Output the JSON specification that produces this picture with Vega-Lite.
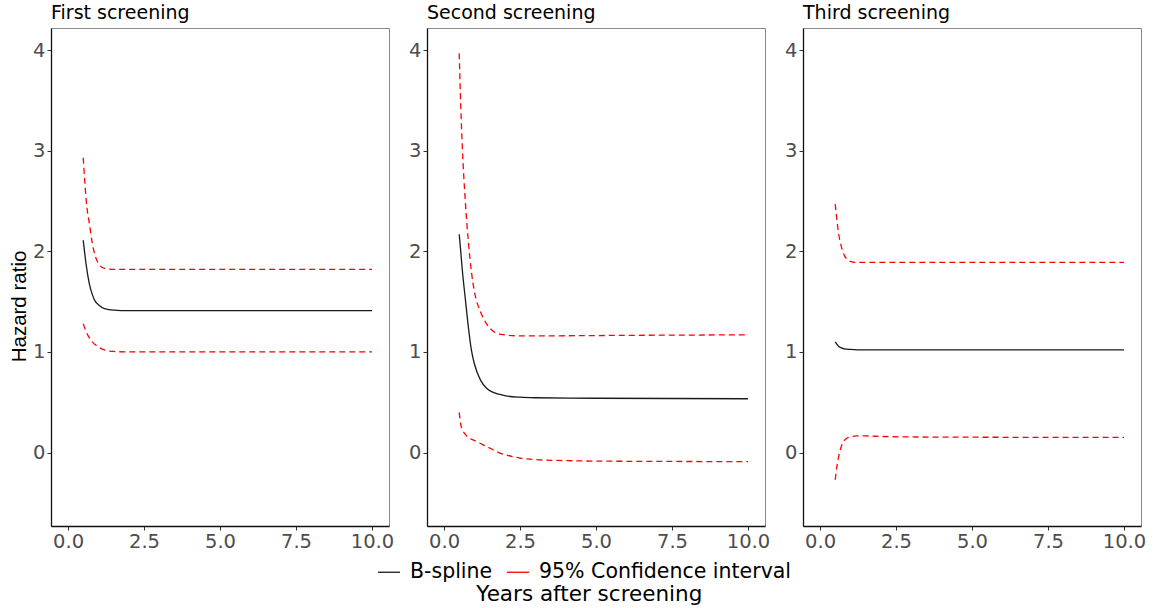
{
  "$schema": "https://vega.github.io/schema/vega-lite/v6.json",
  "background": "white",
  "padding": {"left": 8, "top": 3, "right": 0, "bottom": 0},
  "datasets": {
    "d": [
      {"panel": "First screening", "curve": "B-spline", "bound": "est", "years": 0.5, "hr": 2.11},
      {"panel": "First screening", "curve": "B-spline", "bound": "est", "years": 0.55, "hr": 1.98},
      {"panel": "First screening", "curve": "B-spline", "bound": "est", "years": 0.6, "hr": 1.86},
      {"panel": "First screening", "curve": "B-spline", "bound": "est", "years": 0.7, "hr": 1.68},
      {"panel": "First screening", "curve": "B-spline", "bound": "est", "years": 0.8, "hr": 1.57},
      {"panel": "First screening", "curve": "B-spline", "bound": "est", "years": 0.9, "hr": 1.50},
      {"panel": "First screening", "curve": "B-spline", "bound": "est", "years": 1.0, "hr": 1.47},
      {"panel": "First screening", "curve": "B-spline", "bound": "est", "years": 1.2, "hr": 1.43},
      {"panel": "First screening", "curve": "B-spline", "bound": "est", "years": 1.5, "hr": 1.415},
      {"panel": "First screening", "curve": "B-spline", "bound": "est", "years": 2.0, "hr": 1.41},
      {"panel": "First screening", "curve": "B-spline", "bound": "est", "years": 4.0, "hr": 1.41},
      {"panel": "First screening", "curve": "B-spline", "bound": "est", "years": 7.0, "hr": 1.41},
      {"panel": "First screening", "curve": "B-spline", "bound": "est", "years": 10.0, "hr": 1.41},
      {"panel": "First screening", "curve": "95% Confidence interval", "bound": "upper", "years": 0.5, "hr": 2.93},
      {"panel": "First screening", "curve": "95% Confidence interval", "bound": "upper", "years": 0.55, "hr": 2.70},
      {"panel": "First screening", "curve": "95% Confidence interval", "bound": "upper", "years": 0.6, "hr": 2.50},
      {"panel": "First screening", "curve": "95% Confidence interval", "bound": "upper", "years": 0.7, "hr": 2.28},
      {"panel": "First screening", "curve": "95% Confidence interval", "bound": "upper", "years": 0.8, "hr": 2.08},
      {"panel": "First screening", "curve": "95% Confidence interval", "bound": "upper", "years": 0.9, "hr": 1.95},
      {"panel": "First screening", "curve": "95% Confidence interval", "bound": "upper", "years": 1.0, "hr": 1.88},
      {"panel": "First screening", "curve": "95% Confidence interval", "bound": "upper", "years": 1.2, "hr": 1.83},
      {"panel": "First screening", "curve": "95% Confidence interval", "bound": "upper", "years": 1.5, "hr": 1.82},
      {"panel": "First screening", "curve": "95% Confidence interval", "bound": "upper", "years": 2.0, "hr": 1.82},
      {"panel": "First screening", "curve": "95% Confidence interval", "bound": "upper", "years": 5.0, "hr": 1.82},
      {"panel": "First screening", "curve": "95% Confidence interval", "bound": "upper", "years": 10.0, "hr": 1.82},
      {"panel": "First screening", "curve": "95% Confidence interval", "bound": "lower", "years": 0.5, "hr": 1.28},
      {"panel": "First screening", "curve": "95% Confidence interval", "bound": "lower", "years": 0.6, "hr": 1.20},
      {"panel": "First screening", "curve": "95% Confidence interval", "bound": "lower", "years": 0.7, "hr": 1.14},
      {"panel": "First screening", "curve": "95% Confidence interval", "bound": "lower", "years": 0.8, "hr": 1.10},
      {"panel": "First screening", "curve": "95% Confidence interval", "bound": "lower", "years": 1.0, "hr": 1.05},
      {"panel": "First screening", "curve": "95% Confidence interval", "bound": "lower", "years": 1.2, "hr": 1.02},
      {"panel": "First screening", "curve": "95% Confidence interval", "bound": "lower", "years": 1.5, "hr": 1.005},
      {"panel": "First screening", "curve": "95% Confidence interval", "bound": "lower", "years": 2.0, "hr": 1.0},
      {"panel": "First screening", "curve": "95% Confidence interval", "bound": "lower", "years": 5.0, "hr": 1.0},
      {"panel": "First screening", "curve": "95% Confidence interval", "bound": "lower", "years": 10.0, "hr": 1.0},

      {"panel": "Second screening", "curve": "B-spline", "bound": "est", "years": 0.5, "hr": 2.17},
      {"panel": "Second screening", "curve": "B-spline", "bound": "est", "years": 0.55, "hr": 2.0},
      {"panel": "Second screening", "curve": "B-spline", "bound": "est", "years": 0.6, "hr": 1.82},
      {"panel": "Second screening", "curve": "B-spline", "bound": "est", "years": 0.7, "hr": 1.53},
      {"panel": "Second screening", "curve": "B-spline", "bound": "est", "years": 0.8, "hr": 1.25},
      {"panel": "Second screening", "curve": "B-spline", "bound": "est", "years": 0.9, "hr": 1.02},
      {"panel": "Second screening", "curve": "B-spline", "bound": "est", "years": 1.0, "hr": 0.88},
      {"panel": "Second screening", "curve": "B-spline", "bound": "est", "years": 1.2, "hr": 0.72},
      {"panel": "Second screening", "curve": "B-spline", "bound": "est", "years": 1.4, "hr": 0.64},
      {"panel": "Second screening", "curve": "B-spline", "bound": "est", "years": 1.6, "hr": 0.60},
      {"panel": "Second screening", "curve": "B-spline", "bound": "est", "years": 1.8, "hr": 0.58},
      {"panel": "Second screening", "curve": "B-spline", "bound": "est", "years": 2.0, "hr": 0.565},
      {"panel": "Second screening", "curve": "B-spline", "bound": "est", "years": 2.5, "hr": 0.55},
      {"panel": "Second screening", "curve": "B-spline", "bound": "est", "years": 3.0, "hr": 0.545},
      {"panel": "Second screening", "curve": "B-spline", "bound": "est", "years": 5.0, "hr": 0.54},
      {"panel": "Second screening", "curve": "B-spline", "bound": "est", "years": 10.0, "hr": 0.535},
      {"panel": "Second screening", "curve": "95% Confidence interval", "bound": "upper", "years": 0.5, "hr": 3.97},
      {"panel": "Second screening", "curve": "95% Confidence interval", "bound": "upper", "years": 0.55, "hr": 3.45},
      {"panel": "Second screening", "curve": "95% Confidence interval", "bound": "upper", "years": 0.6, "hr": 3.05},
      {"panel": "Second screening", "curve": "95% Confidence interval", "bound": "upper", "years": 0.7, "hr": 2.5},
      {"panel": "Second screening", "curve": "95% Confidence interval", "bound": "upper", "years": 0.8, "hr": 2.1},
      {"panel": "Second screening", "curve": "95% Confidence interval", "bound": "upper", "years": 0.9, "hr": 1.8},
      {"panel": "Second screening", "curve": "95% Confidence interval", "bound": "upper", "years": 1.0, "hr": 1.6},
      {"panel": "Second screening", "curve": "95% Confidence interval", "bound": "upper", "years": 1.2, "hr": 1.40},
      {"panel": "Second screening", "curve": "95% Confidence interval", "bound": "upper", "years": 1.4, "hr": 1.28},
      {"panel": "Second screening", "curve": "95% Confidence interval", "bound": "upper", "years": 1.6, "hr": 1.21},
      {"panel": "Second screening", "curve": "95% Confidence interval", "bound": "upper", "years": 1.8, "hr": 1.18},
      {"panel": "Second screening", "curve": "95% Confidence interval", "bound": "upper", "years": 2.0, "hr": 1.17},
      {"panel": "Second screening", "curve": "95% Confidence interval", "bound": "upper", "years": 2.5, "hr": 1.16},
      {"panel": "Second screening", "curve": "95% Confidence interval", "bound": "upper", "years": 3.0, "hr": 1.16},
      {"panel": "Second screening", "curve": "95% Confidence interval", "bound": "upper", "years": 6.0, "hr": 1.165},
      {"panel": "Second screening", "curve": "95% Confidence interval", "bound": "upper", "years": 10.0, "hr": 1.17},
      {"panel": "Second screening", "curve": "95% Confidence interval", "bound": "lower", "years": 0.5, "hr": 0.40},
      {"panel": "Second screening", "curve": "95% Confidence interval", "bound": "lower", "years": 0.55, "hr": 0.28},
      {"panel": "Second screening", "curve": "95% Confidence interval", "bound": "lower", "years": 0.6, "hr": 0.23},
      {"panel": "Second screening", "curve": "95% Confidence interval", "bound": "lower", "years": 0.7, "hr": 0.18},
      {"panel": "Second screening", "curve": "95% Confidence interval", "bound": "lower", "years": 0.8, "hr": 0.15},
      {"panel": "Second screening", "curve": "95% Confidence interval", "bound": "lower", "years": 1.0, "hr": 0.12},
      {"panel": "Second screening", "curve": "95% Confidence interval", "bound": "lower", "years": 1.2, "hr": 0.09},
      {"panel": "Second screening", "curve": "95% Confidence interval", "bound": "lower", "years": 1.4, "hr": 0.06},
      {"panel": "Second screening", "curve": "95% Confidence interval", "bound": "lower", "years": 1.6, "hr": 0.03},
      {"panel": "Second screening", "curve": "95% Confidence interval", "bound": "lower", "years": 1.8, "hr": 0.0},
      {"panel": "Second screening", "curve": "95% Confidence interval", "bound": "lower", "years": 2.0, "hr": -0.02},
      {"panel": "Second screening", "curve": "95% Confidence interval", "bound": "lower", "years": 2.5, "hr": -0.055},
      {"panel": "Second screening", "curve": "95% Confidence interval", "bound": "lower", "years": 3.0, "hr": -0.07},
      {"panel": "Second screening", "curve": "95% Confidence interval", "bound": "lower", "years": 4.0, "hr": -0.08},
      {"panel": "Second screening", "curve": "95% Confidence interval", "bound": "lower", "years": 5.0, "hr": -0.085},
      {"panel": "Second screening", "curve": "95% Confidence interval", "bound": "lower", "years": 10.0, "hr": -0.09},

      {"panel": "Third screening", "curve": "B-spline", "bound": "est", "years": 0.5, "hr": 1.10},
      {"panel": "Third screening", "curve": "B-spline", "bound": "est", "years": 0.6, "hr": 1.06},
      {"panel": "Third screening", "curve": "B-spline", "bound": "est", "years": 0.7, "hr": 1.04},
      {"panel": "Third screening", "curve": "B-spline", "bound": "est", "years": 0.8, "hr": 1.03},
      {"panel": "Third screening", "curve": "B-spline", "bound": "est", "years": 1.0, "hr": 1.025},
      {"panel": "Third screening", "curve": "B-spline", "bound": "est", "years": 1.5, "hr": 1.02},
      {"panel": "Third screening", "curve": "B-spline", "bound": "est", "years": 5.0, "hr": 1.02},
      {"panel": "Third screening", "curve": "B-spline", "bound": "est", "years": 10.0, "hr": 1.02},
      {"panel": "Third screening", "curve": "95% Confidence interval", "bound": "upper", "years": 0.5, "hr": 2.47},
      {"panel": "Third screening", "curve": "95% Confidence interval", "bound": "upper", "years": 0.55, "hr": 2.33},
      {"panel": "Third screening", "curve": "95% Confidence interval", "bound": "upper", "years": 0.6, "hr": 2.2},
      {"panel": "Third screening", "curve": "95% Confidence interval", "bound": "upper", "years": 0.7, "hr": 2.05},
      {"panel": "Third screening", "curve": "95% Confidence interval", "bound": "upper", "years": 0.8, "hr": 1.96},
      {"panel": "Third screening", "curve": "95% Confidence interval", "bound": "upper", "years": 0.9, "hr": 1.92},
      {"panel": "Third screening", "curve": "95% Confidence interval", "bound": "upper", "years": 1.0, "hr": 1.90},
      {"panel": "Third screening", "curve": "95% Confidence interval", "bound": "upper", "years": 1.2, "hr": 1.89},
      {"panel": "Third screening", "curve": "95% Confidence interval", "bound": "upper", "years": 5.0, "hr": 1.89},
      {"panel": "Third screening", "curve": "95% Confidence interval", "bound": "upper", "years": 10.0, "hr": 1.89},
      {"panel": "Third screening", "curve": "95% Confidence interval", "bound": "lower", "years": 0.5, "hr": -0.27},
      {"panel": "Third screening", "curve": "95% Confidence interval", "bound": "lower", "years": 0.55, "hr": -0.15},
      {"panel": "Third screening", "curve": "95% Confidence interval", "bound": "lower", "years": 0.6, "hr": -0.06},
      {"panel": "Third screening", "curve": "95% Confidence interval", "bound": "lower", "years": 0.7, "hr": 0.06},
      {"panel": "Third screening", "curve": "95% Confidence interval", "bound": "lower", "years": 0.8, "hr": 0.12},
      {"panel": "Third screening", "curve": "95% Confidence interval", "bound": "lower", "years": 0.9, "hr": 0.145},
      {"panel": "Third screening", "curve": "95% Confidence interval", "bound": "lower", "years": 1.0, "hr": 0.155},
      {"panel": "Third screening", "curve": "95% Confidence interval", "bound": "lower", "years": 1.2, "hr": 0.165},
      {"panel": "Third screening", "curve": "95% Confidence interval", "bound": "lower", "years": 1.5, "hr": 0.165},
      {"panel": "Third screening", "curve": "95% Confidence interval", "bound": "lower", "years": 2.0, "hr": 0.16},
      {"panel": "Third screening", "curve": "95% Confidence interval", "bound": "lower", "years": 3.0, "hr": 0.155},
      {"panel": "Third screening", "curve": "95% Confidence interval", "bound": "lower", "years": 10.0, "hr": 0.15}
    ]
  },
  "data": {"name": "d"},
  "title": {"text": "Years after screening", "orient": "bottom", "anchor": "middle", "frame": "bounds", "fontSize": 21.5, "fontWeight": "normal", "color": "black", "font": "DejaVu Sans", "offset": -1, "dx": 12},
  "spacing": 13,
  "hconcat": [
    {
      "width": 338, "height": 498,
      "title": {"text": "First screening"},
      "transform": [{"filter": "datum.panel === 'First screening'"}],
      "encoding": {
        "x": {"field": "years", "type": "quantitative", "scale": {"domain": [-0.56, 10.56], "nice": false, "zero": false}, "axis": {"values": [0, 2.5, 5, 7.5, 10], "format": ".1f", "title": null}},
        "y": {"field": "hr", "type": "quantitative", "scale": {"domain": [-0.73, 4.22], "nice": false, "zero": false}, "axis": {"values": [0, 1, 2, 3, 4], "title": "Hazard ratio", "titleX": -32, "titleY": 278, "titleAngle": -90, "titleAlign": "center", "titleBaseline": "middle"}},
        "color": {"field": "curve", "type": "nominal", "scale": {"domain": ["B-spline", "95% Confidence interval"], "range": ["#1a1a1a", "#ff0000"]}, "legend": {"title": null, "orient": "none", "legendX": 324, "legendY": 530}},
        "detail": {"field": "bound"}
      },
      "layer": [
        {"transform": [{"filter": "datum.curve === 'B-spline'"}], "mark": {"type": "line", "interpolate": "monotone", "strokeWidth": 1.3}},
        {"transform": [{"filter": "datum.curve !== 'B-spline'"}], "mark": {"type": "line", "interpolate": "monotone", "strokeWidth": 1.3, "strokeDash": [6, 4]}}
      ]
    },
    {
      "width": 338, "height": 498,
      "title": {"text": "Second screening"},
      "transform": [{"filter": "datum.panel === 'Second screening'"}],
      "encoding": {
        "x": {"field": "years", "type": "quantitative", "scale": {"domain": [-0.56, 10.56], "nice": false, "zero": false}, "axis": {"values": [0, 2.5, 5, 7.5, 10], "format": ".1f", "title": null}},
        "y": {"field": "hr", "type": "quantitative", "scale": {"domain": [-0.73, 4.22], "nice": false, "zero": false}, "axis": {"values": [0, 1, 2, 3, 4], "title": null}},
        "color": {"field": "curve", "type": "nominal", "scale": {"domain": ["B-spline", "95% Confidence interval"], "range": ["#1a1a1a", "#ff0000"]}, "legend": {"title": null, "orient": "none", "legendX": 324, "legendY": 530}},
        "detail": {"field": "bound"}
      },
      "layer": [
        {"transform": [{"filter": "datum.curve === 'B-spline'"}], "mark": {"type": "line", "interpolate": "monotone", "strokeWidth": 1.3}},
        {"transform": [{"filter": "datum.curve !== 'B-spline'"}], "mark": {"type": "line", "interpolate": "monotone", "strokeWidth": 1.3, "strokeDash": [6, 4]}}
      ]
    },
    {
      "width": 338, "height": 498,
      "title": {"text": "Third screening"},
      "transform": [{"filter": "datum.panel === 'Third screening'"}],
      "encoding": {
        "x": {"field": "years", "type": "quantitative", "scale": {"domain": [-0.56, 10.56], "nice": false, "zero": false}, "axis": {"values": [0, 2.5, 5, 7.5, 10], "format": ".1f", "title": null}},
        "y": {"field": "hr", "type": "quantitative", "scale": {"domain": [-0.73, 4.22], "nice": false, "zero": false}, "axis": {"values": [0, 1, 2, 3, 4], "title": null}},
        "color": {"field": "curve", "type": "nominal", "scale": {"domain": ["B-spline", "95% Confidence interval"], "range": ["#1a1a1a", "#ff0000"]}, "legend": {"title": null, "orient": "none", "legendX": 324, "legendY": 530}},
        "detail": {"field": "bound"}
      },
      "layer": [
        {"transform": [{"filter": "datum.curve === 'B-spline'"}], "mark": {"type": "line", "interpolate": "monotone", "strokeWidth": 1.3}},
        {"transform": [{"filter": "datum.curve !== 'B-spline'"}], "mark": {"type": "line", "interpolate": "monotone", "strokeWidth": 1.3, "strokeDash": [6, 4]}}
      ]
    }
  ],
  "resolve": {"scale": {"color": "shared"}},
  "config": {
    "font": "DejaVu Sans",
    "view": {"stroke": "#8a8a8a", "strokeWidth": 1},
    "title": {"anchor": "start", "frame": "group", "fontSize": 19, "fontWeight": "normal", "color": "black", "offset": 5, "font": "DejaVu Sans"},
    "axis": {"grid": false, "domainColor": "#111111", "domainWidth": 1.3, "tickColor": "#333333", "tickSize": 4, "labelFont": "DejaVu Sans", "labelFontSize": 19.5, "labelColor": "#4d4d4d", "labelPadding": 2, "titleFontSize": 20.5, "titleFontWeight": "normal", "titleColor": "black", "titleFont": "Liberation Sans"},
    "legend": {"direction": "horizontal", "symbolType": "stroke", "symbolStrokeWidth": 1.3, "symbolSize": 484, "labelFont": "DejaVu Sans", "labelFontSize": 20.5, "labelColor": "black", "labelLimit": 400, "padding": 2, "columnPadding": 11, "labelOffset": 9}
  }
}
